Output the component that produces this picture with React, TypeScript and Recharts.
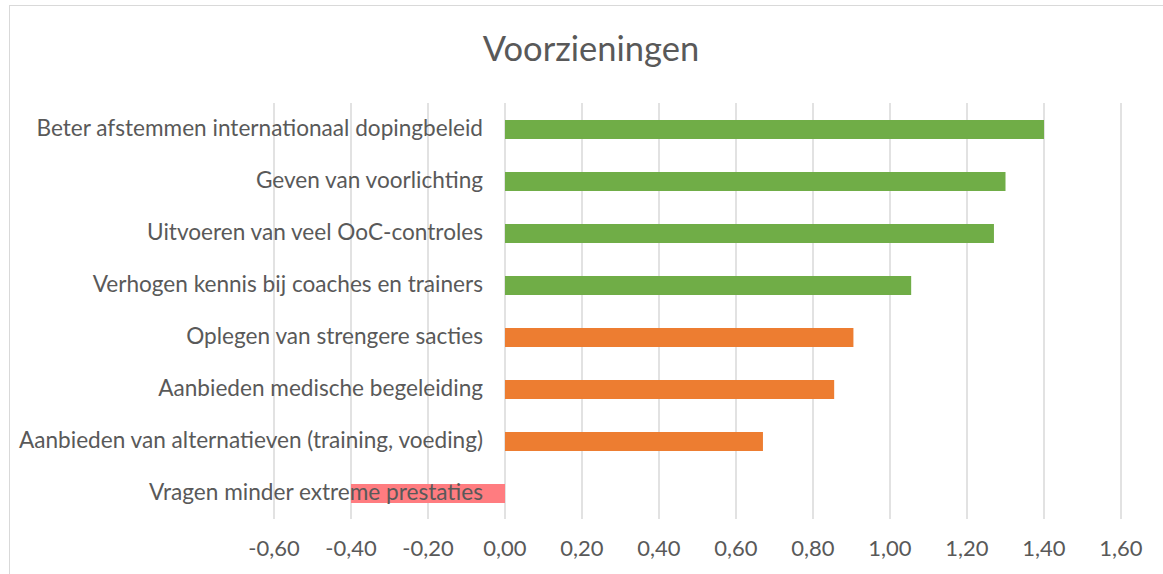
import { BarChart, Bar, XAxis, YAxis, CartesianGrid, Cell } from "recharts";

const categories = [
  "Beter afstemmen internationaal dopingbeleid",
  "Geven van voorlichting",
  "Uitvoeren van veel OoC-controles",
  "Verhogen kennis bij coaches en trainers",
  "Oplegen van strengere sacties",
  "Aanbieden medische begeleiding",
  "Aanbieden van alternatieven (training, voeding)",
  "Vragen minder extreme prestaties",
];
const scores = [1.4, 1.3, 1.27, 1.055, 0.905, 0.855, 0.67, -0.4];
const groups = ["hoog", "hoog", "hoog", "hoog", "midden", "midden", "midden", "laag"];
const xTicks = [-0.6, -0.4, -0.2, 0, 0.2, 0.4, 0.6, 0.8, 1.0, 1.2, 1.4, 1.6];

const groupColors: Record<string, string> = {
  hoog: "#70ad47",
  midden: "#ed7d31",
  laag: "#ff7c80",
};

const data = categories.map((name, i) => ({ name, value: scores[i], group: groups[i] }));

const W = 1163;
const H = 574;
const left = 273;
const right = 42;
const top = 103;
const bottom = 15;
const plotW = W - left - 1 - right;
const xMin = -0.6;
const xMax = 1.6;
const zeroX = left + 1 + ((0 - xMin) / (xMax - xMin)) * plotW;
const font = "Lato, 'Open Sans', sans-serif";

const CategoryTick = (props: any) => {
  const { y, payload } = props;
  return (
    <text x={zeroX - 22} y={y} dy={7} textAnchor="end" fill="#595959" fontSize={22.6} fontFamily={font}>
      {payload.value}
    </text>
  );
};

export default function App() {
  return (
    <div style={{ position: "absolute", left: 0, top: 0, width: W, height: H, background: "#fff", overflow: "hidden" }}>
      <div
        style={{
          position: "absolute",
          left: 9,
          top: 5,
          width: W,
          height: H,
          border: "1px solid #d9d9d9",
        }}
      />
      <div
        style={{
          position: "absolute",
          left: 0,
          top: 27,
          width: 1182,
          textAlign: "center",
          fontFamily: font,
          fontSize: 34.5,
          color: "#595959",
        }}
      >
        Voorzieningen
      </div>
      <BarChart
        width={W}
        height={H}
        data={data}
        layout="vertical"
        margin={{ top, right, left, bottom }}
        style={{ position: "absolute", left: 0, top: 0 }}
      >
        <CartesianGrid horizontal={false} stroke="#d9d9d9" strokeWidth={1.5} />
        <XAxis
          type="number"
          domain={[xMin, xMax]}
          ticks={xTicks}
          height={40}
          axisLine={false}
          tickLine={false}
          interval={0}
          tickFormatter={(v: number) => v.toFixed(2).replace(".", ",")}
          tick={{ fill: "#595959", fontSize: 22, fontFamily: font }}
          tickMargin={15}
        />
        <Bar dataKey="value" barSize={19} isAnimationActive={false}>
          {data.map((d) => (
            <Cell key={d.name} fill={groupColors[d.group]} />
          ))}
        </Bar>
        <YAxis
          type="category"
          dataKey="name"
          width={1}
          axisLine={false}
          tickLine={false}
          interval={0}
          tick={<CategoryTick />}
        />
      </BarChart>
    </div>
  );
}
